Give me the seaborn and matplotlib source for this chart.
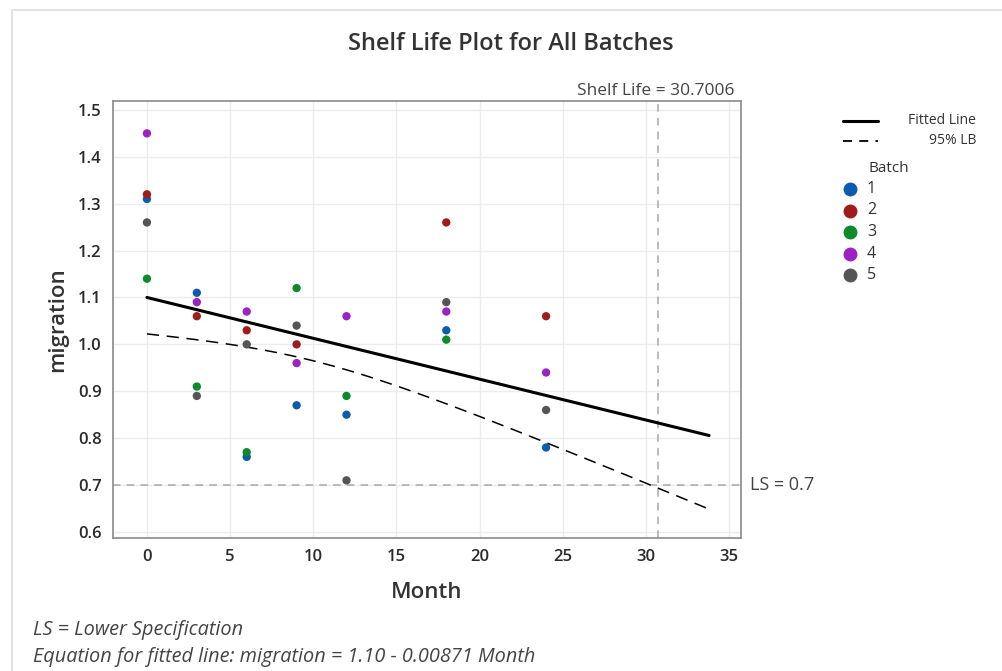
import numpy as np
import pandas as pd
import matplotlib
matplotlib.use("Agg")
import matplotlib.pyplot as plt
from matplotlib.lines import Line2D
from matplotlib.patches import Rectangle
import seaborn as sns

# Stability data: migration measured per batch at each time point (months)
batch1_months = [0, 3, 6, 9, 12, 18, 24]
batch1_values = [1.31, 1.11, 0.76, 0.87, 0.85, 1.03, 0.78]
batch2_months = [0, 3, 6, 9, 18, 24]
batch2_values = [1.32, 1.06, 1.03, 1.00, 1.26, 1.06]
batch3_months = [0, 3, 6, 9, 12, 18]
batch3_values = [1.14, 0.91, 0.77, 1.12, 0.89, 1.01]
batch4_months = [0, 3, 6, 9, 12, 18, 24]
batch4_values = [1.45, 1.09, 1.07, 0.96, 1.06, 1.07, 0.94]
batch5_months = [0, 3, 6, 9, 12, 18, 24]
batch5_values = [1.26, 0.89, 1.00, 1.04, 0.71, 1.09, 0.86]

batch_labels = ["1", "2", "3", "4", "5"]
batch_colors = ["#0b5cad", "#a01c1c", "#0e8a2a", "#9b22c4", "#555555"]

# Fitted model and specification
intercept = 1.10
slope = -0.00871
lower_spec = 0.7
shelf_life = 30.7006
fit_end = 33.8
t_one_sided = 1.6955  # t(0.95, df = 31)

xticks = [0, 5, 10, 15, 20, 25, 30, 35]
yticks = [0.6, 0.7, 0.8, 0.9, 1.0, 1.1, 1.2, 1.3, 1.4, 1.5]

rows = []
for lab, ms, vs in zip(batch_labels,
                       [batch1_months, batch2_months, batch3_months, batch4_months, batch5_months],
                       [batch1_values, batch2_values, batch3_values, batch4_values, batch5_values]):
    for m, v in zip(ms, vs):
        rows.append({"Month": m, "migration": v, "Batch": lab})
df = pd.DataFrame(rows)

# Lower 95% confidence bound of the mean response
x = df["Month"].to_numpy(float)
y = df["migration"].to_numpy(float)
n = len(x)
resid = y - (intercept + slope * x)
s = np.sqrt(np.sum(resid ** 2) / (n - 2))
sxx = np.sum((x - x.mean()) ** 2)
grid = np.linspace(0, fit_end, 200)
fit = intercept + slope * grid
lb = fit - t_one_sided * s * np.sqrt(1.0 / n + (grid - x.mean()) ** 2 / sxx)
lines = pd.DataFrame({"Month": grid, "fit": fit, "lb": lb})

sns.set_theme(style="white")
plt.rcParams["font.family"] = ["Open Sans", "DejaVu Sans"]

W, H = 1003, 671
fig = plt.figure(figsize=(W / 100, H / 100), dpi=100)
fig.patch.set_facecolor("white")

# outer frame
fig.add_artist(Rectangle((12 / W, -0.1), 1.2, 1 - 10 / H + 0.1, transform=fig.transFigure,
                         fill=False, edgecolor="#e3e3e3", linewidth=1.5))

ax = fig.add_axes([113 / W, 1 - 538 / H, (741 - 113) / W, (538 - 101) / H])
ax.set_xlim(-2.04, 35.72)
ax.set_ylim(0.587, 1.519)
ax.set_xticks(xticks)
ax.set_yticks(yticks)
ax.set_yticklabels([f"{t:.1f}" for t in yticks])
ax.grid(True, color="#ececec", linewidth=1)
ax.set_axisbelow(True)
for sp in ax.spines.values():
    sp.set_color("#8a8a8a")
    sp.set_linewidth(1.2)
ax.tick_params(axis="both", direction="out", length=5, width=1, color="#8a8a8a",
               labelsize=12, labelcolor="#2a2a2a", pad=3)
for lbl in ax.get_yticklabels() + ax.get_xticklabels():
    lbl.set_fontweight("semibold")

# spec limit and shelf life reference lines
ax.axhline(lower_spec, color="#a8a8a8", linestyle=(0, (5, 4)), linewidth=1.1, zorder=1)
ax.axvline(shelf_life, color="#a8a8a8", linestyle=(0, (5, 4)), linewidth=1.1, zorder=1)

sns.lineplot(data=lines, x="Month", y="fit", ax=ax, color="black", linewidth=2.2, zorder=3)
sns.lineplot(data=lines, x="Month", y="lb", ax=ax, color="black", linewidth=1.1,
             linestyle=(0, (8, 5)), zorder=3)

sns.scatterplot(data=df, x="Month", y="migration", hue="Batch", hue_order=batch_labels,
                palette=batch_colors, s=36, edgecolor="none", legend=False, ax=ax, zorder=4)

ax.set_xlabel("Month", fontsize=16, color="#333333", labelpad=12, fontweight="semibold")
ax.set_ylabel("migration", fontsize=16, color="#333333", labelpad=7, fontweight="semibold")

ax.text(0.99, 1.004, f"Shelf Life = {shelf_life}", transform=ax.transAxes, ha="right",
        va="bottom", fontsize=12.5, color="#444444")
ax.text(1.015, lower_spec, f"LS = {lower_spec}", transform=ax.get_yaxis_transform(),
        ha="left", va="center", fontsize=13, color="#444444")

fig.text(511 / W, 1 - 44 / H, "Shelf Life Plot for All Batches", ha="center", va="center",
         fontsize=17, color="#333333", fontweight="semibold")

# legend
def px(xp, yp):
    return xp / W, 1 - yp / H

for yy, ls, lw, lab in [(121, "-", 2.2, "Fitted Line"), (141, (0, (5, 4)), 1.3, "95% LB")]:
    x0, y0 = px(843, yy)
    x1, _ = px(878, yy)
    fig.add_artist(Line2D([x0, x1], [y0, y0], transform=fig.transFigure, color="black",
                          linewidth=lw, linestyle=ls))
    tx, ty = px(976, yy)
    fig.text(tx, ty, lab, ha="right", va="center", fontsize=10, color="#333333")

bx, by = px(869, 169)
fig.text(bx, by, "Batch", ha="left", va="center", fontsize=11, color="#333333")
for i, (lab, col) in enumerate(zip(batch_labels, batch_colors)):
    mx, my = px(850, 189 + i * 21.5)
    fig.add_artist(Line2D([mx], [my], transform=fig.transFigure, marker="o", markersize=9,
                          color=col, linestyle="none"))
    lx, _ = px(867, 0)
    fig.text(lx, my, lab, ha="left", va="center", fontsize=11.5, color="#333333")

fx, fy = px(33, 630)
fig.text(fx, fy, "LS = Lower Specification", ha="left", va="center", fontsize=14.3,
         style="italic", color="#444444")
fx, fy = px(33, 657)
fig.text(fx, fy, f"Equation for fitted line: migration = {intercept:.2f} - {abs(slope)} Month",
         ha="left", va="center", fontsize=14.3, style="italic", color="#444444")

fig.savefig("out.png", dpi=100)
